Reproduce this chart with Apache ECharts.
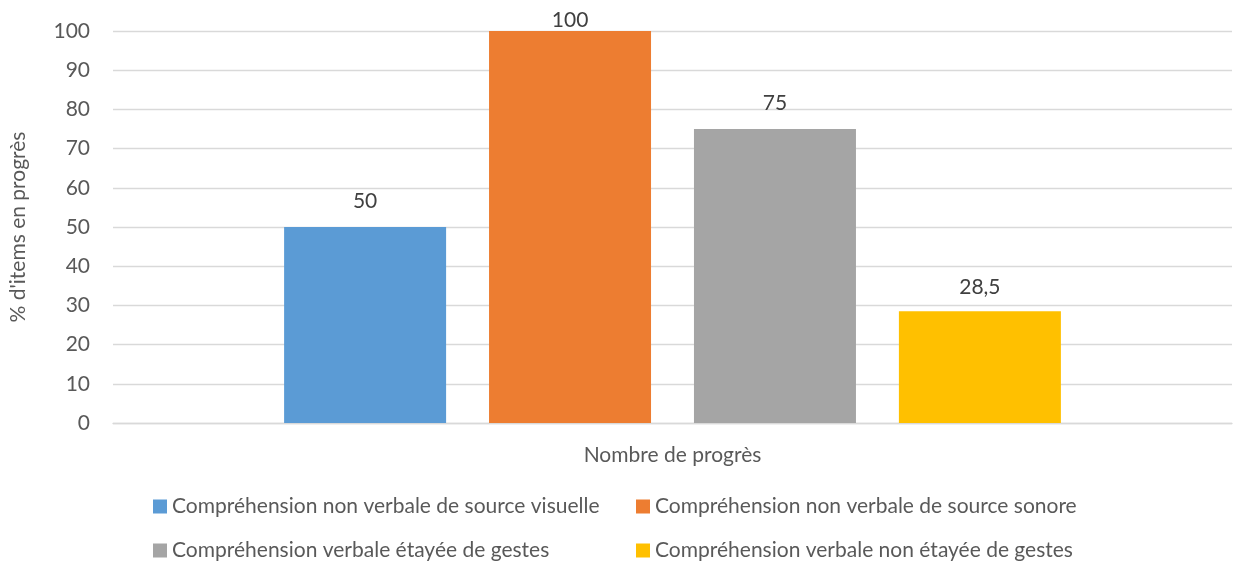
<!DOCTYPE html>
<html><head><meta charset="utf-8">
<script src="https://cdn.jsdelivr.net/npm/echarts@6/dist/echarts.min.js"></script>
<style>html,body{margin:0;padding:0;background:#fff}#c{width:1245px;height:565px}</style>
</head><body><div id="c"></div>
<script>
const categories = ['Nombre de progrès'];
const seriesNames = [
  'Compréhension non verbale de source visuelle',
  'Compréhension non verbale de source sonore',
  'Compréhension verbale étayée de gestes',
  'Compréhension verbale non étayée de gestes'
];
const visuelle = [50];
const sonore = [100];
const etayee = [75];
const nonEtayee = [28.5];
const colors = ['#5B9BD5', '#ED7D31', '#A5A5A5', '#FFC000'];
const yTicks = {min: 0, max: 100, interval: 10};

const FONT = 'Lato';
const FS = 21;
const values = [visuelle, sonore, etayee, nonEtayee];
const labelDist = [15, 0, 15, 14];
const chart = echarts.init(document.getElementById('c'));
const legendPos = [[153, 496], [636, 496], [153, 540], [636, 540]];
chart.setOption({
  animation: false,
  grid: {left: 113, right: 13, top: 31, bottom: 142},
  xAxis: {
    type: 'category', data: categories,
    axisLine: {lineStyle: {color: '#d9d9d9', width: 1.3}},
    axisTick: {show: false},
    axisLabel: {color: '#595959', fontFamily: FONT, fontSize: FS, margin: 22}
  },
  yAxis: {
    type: 'value', min: yTicks.min, max: yTicks.max, interval: yTicks.interval,
    name: "% d'items en progrès", nameLocation: 'middle', nameGap: 84, nameRotate: 90,
    nameTextStyle: {color: '#595959', fontFamily: FONT, fontSize: FS},
    axisLine: {show: false}, axisTick: {show: false},
    axisLabel: {color: '#595959', fontFamily: FONT, fontSize: FS, margin: 23},
    splitLine: {lineStyle: {color: '#d9d9d9', width: 1.3}}
  },
  legend: seriesNames.map((n, i) => ({
    data: [n], left: legendPos[i][0], top: legendPos[i][1], padding: 0,
    itemWidth: 14, itemHeight: 14, icon: 'rect',
    textStyle: {color: '#595959', fontFamily: FONT, fontSize: FS}
  })),
  series: seriesNames.map((n, i) => ({
    name: n, type: 'bar', data: values[i], barWidth: 162, barGap: '26.5%',
    itemStyle: {color: colors[i]},
    label: {show: true, position: 'top', distance: labelDist[i], color: '#404040', fontFamily: FONT, fontSize: FS,
      formatter: p => String(p.value).replace('.', ',')}
  }))
});
</script></body></html>
